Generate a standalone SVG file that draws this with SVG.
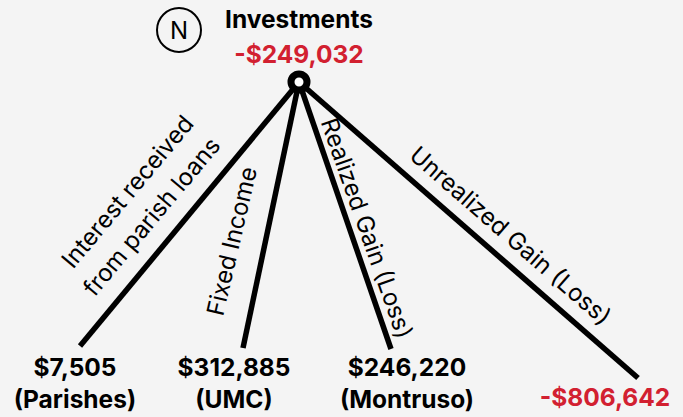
<svg xmlns="http://www.w3.org/2000/svg" width="683" height="417" viewBox="0 0 683 417">
  <style>
    text { font-family: Inter, "Liberation Sans", sans-serif; fill: #000; }
    .lbl { font-size: 24px; font-weight: 400; }
    .val { font-size: 24.5px; font-weight: 700; text-anchor: middle; }
    .neg { fill: #d22030; }
    .edge { stroke: #000; stroke-width: 5.5; fill: none; }
  </style>
  <rect width="683" height="417" fill="#f4f4f4"/>
  <g id="connectors">
    <line class="edge" x1="299" y1="82" x2="80" y2="346"/>
    <line class="edge" x1="299" y1="82" x2="243" y2="348"/>
    <line class="edge" x1="299" y1="82" x2="391" y2="349"/>
    <line class="edge" x1="299" y1="82" x2="638" y2="378"/>
    <text class="lbl" text-anchor="middle" transform="translate(134 197) rotate(-50)">Interest received</text>
    <text class="lbl" text-anchor="middle" transform="translate(158 222) rotate(-50)">from parish loans</text>
    <text class="lbl" text-anchor="middle" transform="translate(240 243) rotate(-77)">Fixed Income</text>
    <text class="lbl" text-anchor="middle" transform="translate(359 231) rotate(70.6)">Realized Gain (Loss)</text>
    <text class="lbl" text-anchor="middle" transform="translate(505 242) rotate(41)">Unrealized Gain (Loss)</text>
  </g>
  <g id="badge">
    <circle cx="179" cy="30" r="22" fill="none" stroke="#000" stroke-width="2"/>
    <text x="179" y="39" font-size="24" text-anchor="middle">N</text>
  </g>
  <g id="investments">
    <text class="val" x="299" y="28">Investments</text>
    <text class="val neg" x="299" y="63">-$249,032</text>
    <circle cx="299" cy="82" r="8" fill="#fff" stroke="#000" stroke-width="7"/>
  </g>
  <g id="parishes">
    <text class="val" x="75" y="376">$7,505</text>
    <text class="val" x="75" y="408">(Parishes)</text>
  </g>
  <g id="umc">
    <text class="val" x="234" y="376">$312,885</text>
    <text class="val" x="234" y="408">(UMC)</text>
  </g>
  <g id="montruso">
    <text class="val" x="407" y="376">$246,220</text>
    <text class="val" x="407" y="408">(Montruso)</text>
  </g>
  <g id="unrealized">
    <text class="val neg" x="605" y="406">-$806,642</text>
  </g>
</svg>
